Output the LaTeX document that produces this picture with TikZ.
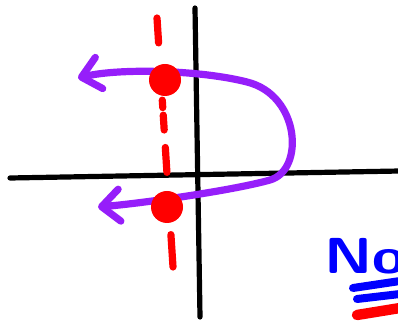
\documentclass[tikz,border=0pt]{standalone}
\usepackage{tikz}
\usetikzlibrary{arrows.meta, calc, positioning}
\definecolor{penpurple}{RGB}{150,30,250}

\begin{document}
\begin{tikzpicture}[
    x=0.25mm, y=-0.25mm,
    axisline/.style={line width=1.3mm, line cap=round, black},
    reddash/.style={line width=1.8mm, line cap=round, red},
    curve/.style={line width=1.8mm, line cap=round, penpurple,
      {Straight Barb[length=4.5mm, width=8mm, round]}-{Straight Barb[length=4.5mm, width=8mm, round]}},
    dot/.style={circle, fill=red, inner sep=0pt, minimum size=8mm},
    underline/.style={line width=2mm, line cap=round},
  ]
  \clip (0,0) rectangle (398,322);
  % --- axes
  \coordinate (ytop) at (195,8);
  \coordinate (ybot) at (200,317);
  \coordinate (xl) at (10,178);
  \coordinate (xr) at (400,171);
  \draw[axisline] (ytop) -- (ybot);
  \draw[axisline] (xl) -- (xr);
  % --- red dashed line
  \coordinate (rt) at (157,18);
  \coordinate (rb) at (173,267);
  \foreach \a/\b in {0/0.1, 0.33/0.36, 0.39/0.45, 0.52/0.62, 0.87/1}
    \draw[reddash] ($(rt)!\a!(rb)$) -- ($(rt)!\b!(rb)$);
  % --- purple path
  \coordinate (tipA) at (78,78);
  \coordinate (tipB) at (98,207);
  \draw[curve] (tipA) .. controls (120,68) and (200,70) .. (247,82)
    .. controls (300,95) and (305,170) .. (270,180)
    .. controls (235,190) and (145,203) .. (tipB);
  % --- points
  \node[dot] (ptA) at (165,80) {};
  \node[dot] (ptB) at (167,207) {};
  % --- note
  \node[anchor=base west, inner sep=0pt, text=blue,
    font=\sffamily\bfseries\fontsize{36}{36}\selectfont] (no) at (324,274) {\scalebox{1.2}[1]{No}};
  \draw[underline, blue] (353,288) -- (400,281);
  \draw[underline, blue] (357,299) -- (400,294);
  \draw[underline, red, line width=2.6mm] (357,315) -- (400,308);
\end{tikzpicture}
\end{document}
